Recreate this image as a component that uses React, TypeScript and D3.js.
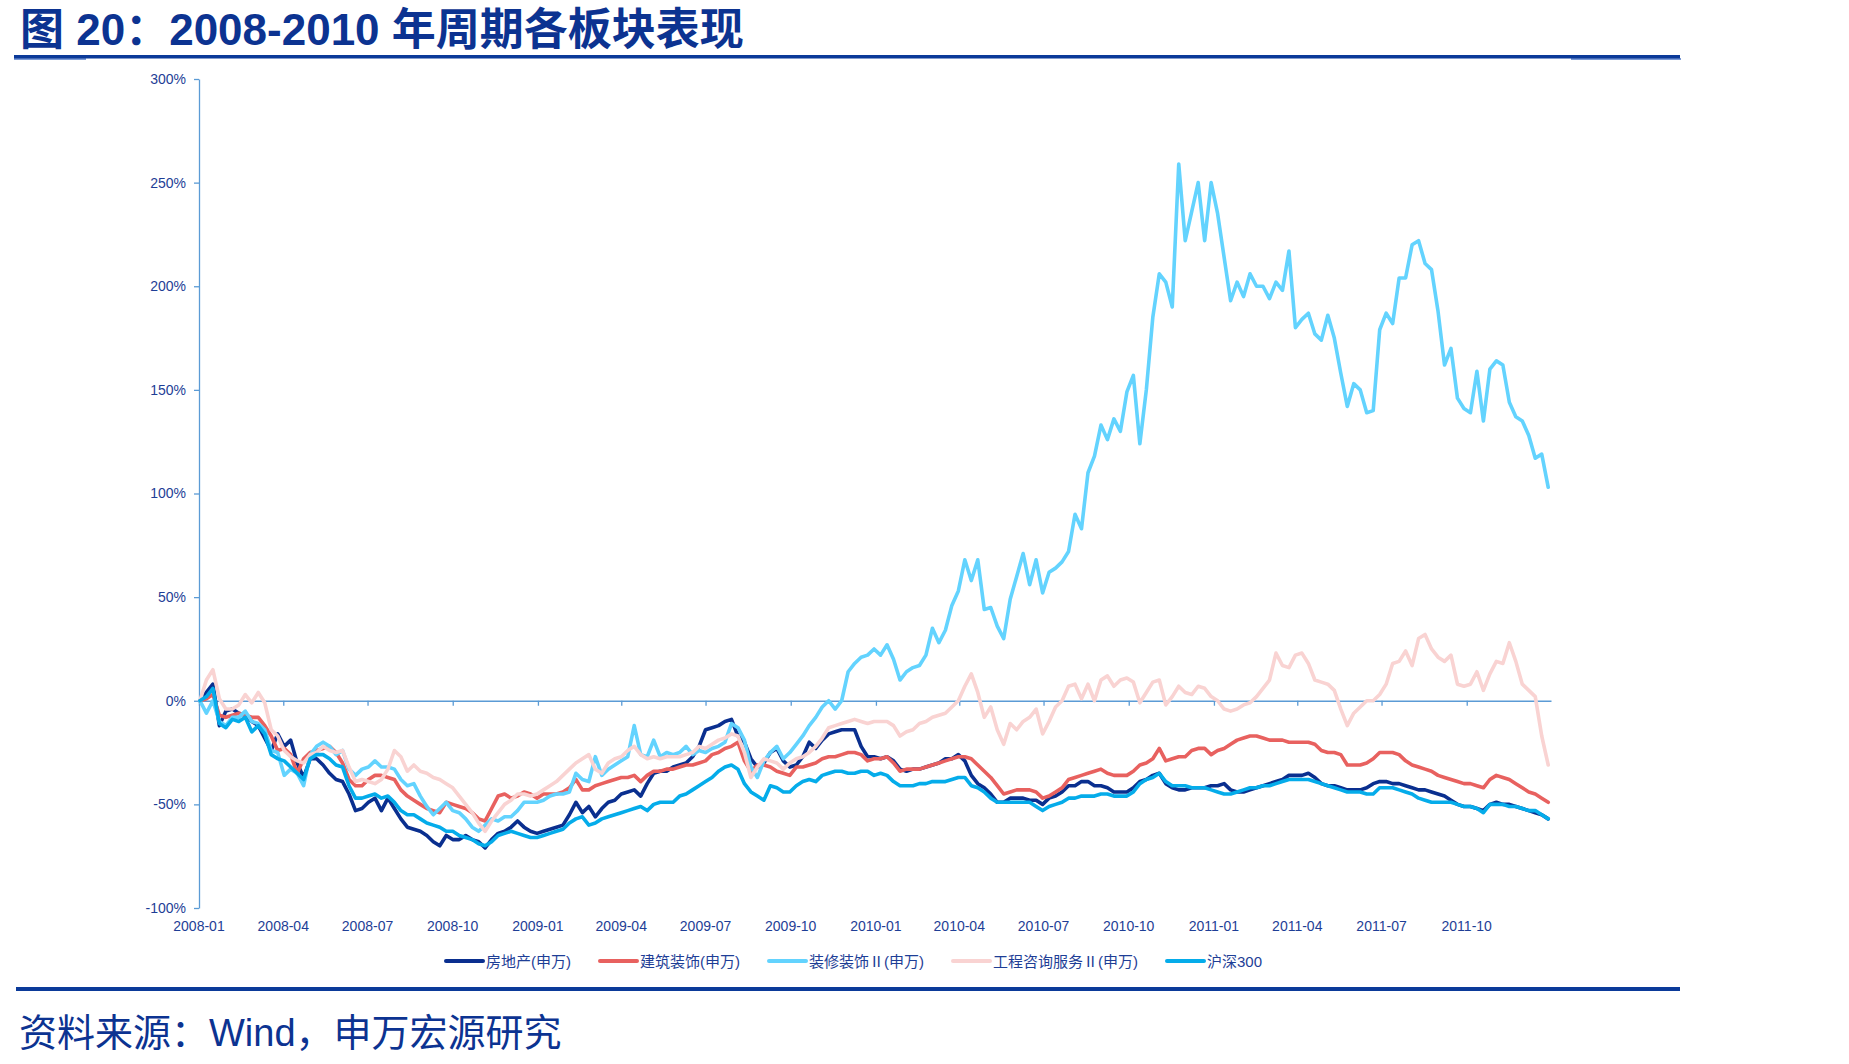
import React, { useRef, useEffect } from 'react';
import * as d3 from 'd3';

// Weekly closes, cumulative change (%) since the first trading day of 2008
const startDate = new Date(2008, 0, 2);

const realEstate = [
  0, 4, 8, -12, -5, -4, -6, -7, -10, -12, -18, -24, -16, -22,
  -19, -30, -37, -28, -28, -31, -35, -38, -39, -45, -53, -52, -49,
  -47, -53, -47, -52, -57, -61, -62, -63, -65, -68, -70, -65, -67,
  -67, -65, -67, -68, -71, -67, -64, -63, -61, -58, -61, -63, -64,
  -63, -62, -61, -60, -55, -49, -54, -51, -56, -52, -49, -48, -45,
  -44, -43, -46, -40, -35, -34, -34, -32, -31, -30, -27, -22, -14,
  -13, -12, -10, -9, -17, -20, -28, -32, -30, -25, -23, -29, -32,
  -31, -27, -20, -23, -19, -16, -15, -14, -14, -14, -22, -27, -27,
  -28, -27, -29, -33, -34, -33, -33, -32, -31, -30, -28, -28, -26,
  -29, -36, -40, -42, -45, -49, -49, -47, -47, -47, -48, -48, -50,
  -47, -46, -44, -41, -41, -39, -39, -41, -41, -42, -44, -44, -44,
  -42, -39, -38, -36, -35, -40, -42, -43, -43, -42, -42, -42, -41,
  -41, -40, -43, -44, -44, -43, -42, -41, -40, -39, -38, -36, -36,
  -36, -35, -37, -40, -41, -41, -42, -43, -43, -43, -42, -40, -39,
  -39, -40, -40, -41, -42, -43, -43, -44, -45, -46, -48, -50, -51,
  -51, -52, -53, -50, -49, -50, -50, -51, -52, -53, -54, -55, -57,
];

const construction = [
  0, 1, 3, -7, -8, -7, -6, -7, -8, -8, -12, -17, -24, -23,
  -26, -35, -28, -25, -24, -23, -22, -25, -30, -38, -41, -41, -38,
  -36, -36, -37, -38, -43, -46, -48, -50, -52, -53, -54, -49, -50,
  -51, -52, -54, -57, -58, -52, -46, -45, -47, -46, -44, -45, -47,
  -45, -45, -45, -44, -42, -38, -43, -43, -41, -40, -39, -38, -37,
  -37, -36, -39, -36, -34, -34, -33, -33, -32, -31, -31, -30, -29,
  -26, -25, -23, -22, -20, -29, -34, -31, -31, -32, -34, -35, -36,
  -32, -32, -31, -30, -28, -27, -27, -26, -25, -25, -26, -29, -28,
  -28, -27, -30, -34, -33, -33, -33, -32, -31, -30, -29, -28, -27,
  -27, -28, -31, -34, -37, -41, -45, -44, -43, -43, -43, -44, -47,
  -46, -44, -42, -38, -37, -36, -35, -34, -33, -35, -36, -36, -36,
  -34, -31, -30, -28, -23, -29, -28, -27, -27, -24, -23, -23, -26,
  -24, -23, -21, -19, -18, -17, -17, -18, -19, -19, -19, -20, -20,
  -20, -20, -21, -24, -25, -25, -26, -31, -31, -31, -30, -28, -25,
  -25, -25, -26, -29, -31, -32, -33, -34, -36, -37, -38, -39, -40,
  -40, -41, -42, -38, -36, -37, -38, -40, -42, -44, -45, -47, -49,
];

const decoration = [
  0, -6, 0, -10, -12, -8, -8, -5, -10, -11, -14, -24, -25, -36,
  -33, -35, -41, -26, -22, -20, -22, -26, -24, -33, -36, -33, -32,
  -29, -32, -32, -33, -38, -41, -40, -46, -51, -55, -52, -49, -53,
  -54, -57, -61, -63, -60, -57, -58, -56, -56, -53, -49, -49, -49,
  -48, -46, -45, -45, -44, -35, -38, -39, -27, -36, -33, -31, -29,
  -27, -12, -26, -27, -19, -27, -25, -26, -25, -22, -26, -24, -25,
  -23, -22, -20, -11, -13, -19, -32, -37, -29, -25, -22, -28, -25,
  -21, -17, -12, -8, -3, 0, -4, 0, 14, 18, 21, 22, 25,
  22, 27, 20, 10, 14, 16, 17, 22, 35, 28, 34, 46, 53,
  68, 58, 68, 44, 45, 36, 30, 49, 60, 71, 56, 68, 52,
  62, 64, 67, 72, 90, 83, 110, 118, 133, 126, 136, 130, 149,
  157, 124, 150, 185, 206, 202, 190, 259, 222, 236, 250, 222, 250,
  235, 214, 193, 202, 195, 206, 200, 200, 194, 202, 198, 217, 180,
  184, 187, 177, 174, 186, 175, 158, 142, 153, 150, 139, 140, 179,
  187, 182, 204, 204, 220, 222, 211, 208, 188, 162, 170, 146, 141,
  139, 159, 135, 160, 164, 162, 144, 137, 135, 128, 117, 119, 103,
];

const consulting = [
  0, 10, 15, 1, -4, -4, -2, 3, -1, 4, -1, -14, -17, -24,
  -27, -29, -30, -26, -25, -22, -24, -25, -24, -32, -39, -38, -39,
  -40, -38, -33, -24, -27, -34, -31, -34, -35, -37, -38, -40, -42,
  -46, -50, -54, -59, -63, -58, -54, -50, -48, -45, -45, -46, -45,
  -43, -41, -39, -36, -33, -30, -28, -26, -33, -35, -30, -28, -27,
  -24, -22, -26, -28, -27, -28, -27, -27, -27, -26, -25, -22, -23,
  -21, -19, -18, -16, -17, -25, -37, -32, -28, -29, -30, -33, -30,
  -28, -27, -25, -22, -18, -13, -12, -11, -10, -9, -10, -11, -10,
  -10, -10, -12, -17, -15, -14, -11, -10, -8, -7, -6, -3, 0,
  7, 13, 4, -8, -3, -14, -21, -11, -14, -10, -8, -4, -16,
  -10, -3, 0, 7, 8, 1, 8, 0, 10, 12, 7, 10, 11,
  9, -1, 4, 9, 10, -2, 2, 7, 4, 3, 7, 6, 2,
  0, -4, -5, -4, -2, -1, 2, 6, 10, 23, 17, 16, 22,
  23, 18, 10, 9, 8, 5, -4, -12, -6, -3, 0, 0, 3,
  8, 18, 19, 24, 17, 30, 32, 25, 21, 19, 22, 8, 7,
  8, 14, 5, 13, 19, 18, 28, 19, 8, 5, 2, -17, -31,
];

const hs300 = [
  0, 2, 6, -11, -13, -9, -10, -8, -15, -12, -16, -26, -28, -29,
  -32, -35, -38, -28, -26, -26, -28, -31, -32, -41, -47, -47, -46,
  -45, -47, -46, -49, -53, -55, -55, -57, -59, -60, -61, -63, -63,
  -65, -66, -67, -69, -70, -68, -65, -64, -63, -64, -65, -66, -66,
  -65, -64, -63, -62, -59, -57, -56, -60, -59, -57, -56, -55, -54,
  -53, -52, -51, -53, -50, -49, -49, -49, -46, -45, -43, -41, -39,
  -37, -34, -32, -31, -33, -40, -44, -46, -48, -41, -42, -44, -44,
  -41, -39, -38, -39, -36, -35, -34, -34, -35, -35, -34, -34, -36,
  -35, -36, -39, -41, -41, -41, -40, -40, -39, -39, -39, -38, -37,
  -37, -41, -42, -44, -47, -49, -49, -49, -49, -49, -49, -51, -53,
  -51, -50, -49, -47, -47, -46, -46, -46, -45, -45, -46, -46, -46,
  -44, -40, -38, -37, -35, -39, -41, -41, -41, -42, -42, -42, -43,
  -44, -45, -45, -44, -43, -42, -42, -41, -41, -40, -39, -38, -38,
  -38, -38, -39, -40, -41, -42, -43, -44, -44, -44, -45, -45, -42,
  -42, -42, -43, -44, -45, -47, -48, -49, -49, -49, -49, -50, -51,
  -51, -52, -54, -50, -50, -50, -51, -51, -52, -53, -53, -55, -57,
];

const seriesNames = ['房地产(申万)', '建筑装饰(申万)', '装修装饰Ⅱ(申万)', '工程咨询服务Ⅱ(申万)', '沪深300'];
const seriesColors = ['#0A2F8F', '#E8615F', '#63D3FE', '#F9D3D2', '#05ACEA'];
const seriesValues = [realEstate, construction, decoration, consulting, hs300];

const yTicks = [-100, -50, 0, 50, 100, 150, 200, 250, 300];

const titleText = '图 20：2008-2010 年周期各板块表现';
const sourceText = '资料来源：Wind，申万宏源研究';

const FONT = '"Liberation Sans", Arial, "Noto Sans CJK SC", sans-serif';
const DARK_BLUE = '#0C3391';
const LABEL_BLUE = '#1E3E96';
const AXIS_BLUE = '#5B9BD5';

const WIDTH = 1849;
const HEIGHT = 1064;

const App: React.FC = () => {
  const svgRef = useRef<SVGSVGElement | null>(null);

  useEffect(() => {
    if (!svgRef.current) return;
    const svg = d3.select(svgRef.current);
    svg.selectAll('*').remove();

    const plot = { left: 199, right: 1551, top: 79, bottom: 908 };

    const x = d3.scaleTime()
      .domain([new Date(2008, 0, 1), new Date(2011, 11, 31)])
      .range([plot.left, plot.right]);

    const y = d3.scaleLinear()
      .domain([-100, 300])
      .range([plot.bottom, plot.top]);

    // Title and the rule under it
    svg.append('text')
      .attr('x', 20)
      .attr('y', 45)
      .attr('font-family', FONT)
      .attr('font-size', 44)
      .attr('font-weight', 'bold')
      .attr('fill', DARK_BLUE)
      .text(titleText);

    svg.append('rect').attr('x', 14).attr('y', 58).attr('width', 72).attr('height', 2).attr('fill', '#7C9BD6');
    svg.append('rect').attr('x', 1571).attr('y', 58).attr('width', 110).attr('height', 2).attr('fill', '#7C9BD6');
    svg.append('rect').attr('x', 14).attr('y', 55).attr('width', 1666).attr('height', 3.5).attr('fill', '#0B3A99');

    // Left axis
    const yAxis = svg.append('g')
      .attr('transform', `translate(${plot.left},0)`)
      .call(d3.axisLeft(y).tickValues(yTicks).tickSize(5).tickSizeOuter(0).tickPadding(8)
        .tickFormat(d => `${d}%`));
    yAxis.select('.domain').attr('stroke', AXIS_BLUE).attr('stroke-width', 1.3);
    yAxis.selectAll('.tick line').attr('stroke', AXIS_BLUE).attr('stroke-width', 1.3);
    yAxis.selectAll('text')
      .attr('font-family', FONT)
      .attr('font-size', 14)
      .attr('fill', LABEL_BLUE);

    // Zero line carries the quarter ticks
    const quarters = x.ticks(d3.timeMonth.every(3)!);
    const xAxis = svg.append('g')
      .attr('transform', `translate(0,${y(0)})`)
      .call(d3.axisBottom(x).tickValues(quarters).tickSize(5).tickSizeOuter(0).tickFormat(() => ''));
    xAxis.select('.domain').attr('stroke', AXIS_BLUE).attr('stroke-width', 1.3);
    xAxis.selectAll('.tick line').attr('stroke', AXIS_BLUE).attr('stroke-width', 1.3);

    // Date labels sit under the plot
    svg.append('g')
      .selectAll('text')
      .data(quarters)
      .join('text')
      .attr('x', d => x(d))
      .attr('y', plot.bottom + 23)
      .attr('text-anchor', 'middle')
      .attr('font-family', FONT)
      .attr('font-size', 14)
      .attr('fill', LABEL_BLUE)
      .text(d => d3.timeFormat('%Y-%m')(d));

    // Series
    const line = d3.line<number>()
      .x((_, i) => x(d3.timeDay.offset(startDate, 7 * i)))
      .y(d => y(d));

    seriesValues.forEach((values, k) => {
      svg.append('path')
        .datum(values)
        .attr('fill', 'none')
        .attr('stroke', seriesColors[k])
        .attr('stroke-width', 3.6)
        .attr('stroke-linejoin', 'round')
        .attr('stroke-linecap', 'round')
        .attr('d', line);
    });

    // Legend, laid out left to right
    const legend = svg.append('g').attr('transform', 'translate(446,961)');
    let cursor = 0;
    seriesNames.forEach((name, k) => {
      const item = legend.append('g').attr('transform', `translate(${cursor},0)`);
      item.append('line')
        .attr('x1', 0).attr('x2', 37)
        .attr('y1', 0).attr('y2', 0)
        .attr('stroke', seriesColors[k])
        .attr('stroke-width', 4)
        .attr('stroke-linecap', 'round');
      const label = item.append('text')
        .attr('x', 40)
        .attr('y', 5.5)
        .attr('font-family', FONT)
        .attr('font-size', 15)
        .attr('fill', LABEL_BLUE)
        .text(name);
      const w = (label.node() as SVGTextElement).getComputedTextLength();
      cursor += 40 + w + 29;
    });

    // Footer rule and source line
    svg.append('rect').attr('x', 16).attr('y', 987).attr('width', 1664).attr('height', 4).attr('fill', '#0B3A99');
    svg.append('text')
      .attr('x', 19)
      .attr('y', 1046)
      .attr('font-family', FONT)
      .attr('font-size', 38)
      .attr('fill', DARK_BLUE)
      .text(sourceText);
  }, []);

  return (
    <svg
      ref={svgRef}
      width={WIDTH}
      height={HEIGHT}
      style={{ position: 'absolute', left: 0, top: 0, background: '#fff' }}
    />
  );
};

export default App;
